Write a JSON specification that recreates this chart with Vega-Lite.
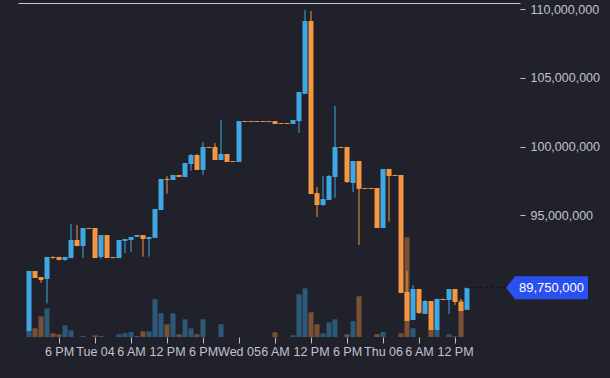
{
  "$schema": "https://vega.github.io/schema/vega-lite/v6.json",
  "width": 502,
  "height": 334,
  "autosize": {"type": "none"},
  "padding": {"left": 18, "top": 3, "right": 90, "bottom": 41},
  "background": "#21212c",
  "config": {
    "view": {"stroke": null},
    "axis": {"grid": false, "labelFont": "Liberation Sans", "labelFontSize": 12.5, "labelColor": "#c2c2ce", "tickColor": "#c2c2ce", "domain": false, "labelOverlap": false, "labelFlush": false}
  },
  "datasets": {
    "candles": [
      {"t": "2019-06-03T13:00:00Z", "open": 86610000, "high": 90970000, "low": 86610000, "close": 90970000, "volume": 6},
      {"t": "2019-06-03T14:00:00Z", "open": 90970000, "high": 90970000, "low": 90460000, "close": 90460000, "volume": 8.7},
      {"t": "2019-06-03T15:00:00Z", "open": 90530000, "high": 90530000, "low": 90120000, "close": 90320000, "volume": 20.7},
      {"t": "2019-06-03T16:00:00Z", "open": 90390000, "high": 91990000, "low": 88620000, "close": 91990000, "volume": 28.7},
      {"t": "2019-06-03T17:00:00Z", "open": 91990000, "high": 92030000, "low": 91850000, "close": 91920000, "volume": 3.7},
      {"t": "2019-06-03T18:00:00Z", "open": 91990000, "high": 91990000, "low": 91740000, "close": 91770000, "volume": 2.7},
      {"t": "2019-06-03T19:00:00Z", "open": 91770000, "high": 91990000, "low": 91700000, "close": 91990000, "volume": 11.7},
      {"t": "2019-06-03T20:00:00Z", "open": 91910000, "high": 94380000, "low": 91910000, "close": 93220000, "volume": 6.7},
      {"t": "2019-06-03T21:00:00Z", "open": 93220000, "high": 94310000, "low": 92780000, "close": 92780000, "volume": 0},
      {"t": "2019-06-03T22:00:00Z", "open": 92780000, "high": 94090000, "low": 91910000, "close": 94090000, "volume": 1},
      {"t": "2019-06-03T23:00:00Z", "open": 94090000, "high": 94090000, "low": 94020000, "close": 94020000, "volume": 0},
      {"t": "2019-06-04T00:00:00Z", "open": 94090000, "high": 94090000, "low": 91910000, "close": 91910000, "volume": 1.7},
      {"t": "2019-06-04T01:00:00Z", "open": 91990000, "high": 93580000, "low": 91850000, "close": 93580000, "volume": 1},
      {"t": "2019-06-04T02:00:00Z", "open": 93580000, "high": 93580000, "low": 91910000, "close": 91910000, "volume": 0},
      {"t": "2019-06-04T03:00:00Z", "open": 91980000, "high": 91980000, "low": 91910000, "close": 91910000, "volume": 0},
      {"t": "2019-06-04T04:00:00Z", "open": 91910000, "high": 93220000, "low": 91910000, "close": 93220000, "volume": 2.7},
      {"t": "2019-06-04T05:00:00Z", "open": 93150000, "high": 93290000, "low": 92280000, "close": 93290000, "volume": 3.7},
      {"t": "2019-06-04T06:00:00Z", "open": 93220000, "high": 93440000, "low": 92350000, "close": 93440000, "volume": 5},
      {"t": "2019-06-04T07:00:00Z", "open": 93440000, "high": 93580000, "low": 93440000, "close": 93580000, "volume": 1},
      {"t": "2019-06-04T08:00:00Z", "open": 93580000, "high": 93580000, "low": 92010000, "close": 93290000, "volume": 5.7},
      {"t": "2019-06-04T09:00:00Z", "open": 93290000, "high": 93440000, "low": 92010000, "close": 93440000, "volume": 5.7},
      {"t": "2019-06-04T10:00:00Z", "open": 93370000, "high": 95470000, "low": 93370000, "close": 95470000, "volume": 37.7},
      {"t": "2019-06-04T11:00:00Z", "open": 95400000, "high": 97650000, "low": 95400000, "close": 97650000, "volume": 23.7},
      {"t": "2019-06-04T12:00:00Z", "open": 97650000, "high": 97850000, "low": 96580000, "close": 97580000, "volume": 12.7},
      {"t": "2019-06-04T13:00:00Z", "open": 97580000, "high": 97940000, "low": 97580000, "close": 97940000, "volume": 23.7},
      {"t": "2019-06-04T14:00:00Z", "open": 97940000, "high": 97940000, "low": 97800000, "close": 97800000, "volume": 2.7},
      {"t": "2019-06-04T15:00:00Z", "open": 97800000, "high": 98810000, "low": 97800000, "close": 98810000, "volume": 17.7},
      {"t": "2019-06-04T16:00:00Z", "open": 98740000, "high": 99470000, "low": 98250000, "close": 99390000, "volume": 8.7},
      {"t": "2019-06-04T17:00:00Z", "open": 99390000, "high": 99470000, "low": 98310000, "close": 98310000, "volume": 2.7},
      {"t": "2019-06-04T18:00:00Z", "open": 98310000, "high": 100340000, "low": 97940000, "close": 99980000, "volume": 17.7},
      {"t": "2019-06-04T19:00:00Z", "open": 99980000, "high": 99980000, "low": 99910000, "close": 99910000, "volume": 0},
      {"t": "2019-06-04T20:00:00Z", "open": 99980000, "high": 100270000, "low": 99030000, "close": 99030000, "volume": 0},
      {"t": "2019-06-04T21:00:00Z", "open": 99030000, "high": 101940000, "low": 99030000, "close": 99470000, "volume": 12.7},
      {"t": "2019-06-04T22:00:00Z", "open": 99470000, "high": 99470000, "low": 98890000, "close": 98890000, "volume": 0},
      {"t": "2019-06-04T23:00:00Z", "open": 98960000, "high": 98960000, "low": 98890000, "close": 98890000, "volume": 0},
      {"t": "2019-06-05T00:00:00Z", "open": 98890000, "high": 101860000, "low": 98890000, "close": 101860000, "volume": 0},
      {"t": "2019-06-05T01:00:00Z", "open": 101860000, "high": 101860000, "low": 101790000, "close": 101790000, "volume": 0},
      {"t": "2019-06-05T02:00:00Z", "open": 101860000, "high": 101860000, "low": 101790000, "close": 101790000, "volume": 0},
      {"t": "2019-06-05T03:00:00Z", "open": 101860000, "high": 101860000, "low": 101790000, "close": 101790000, "volume": 0},
      {"t": "2019-06-05T04:00:00Z", "open": 101860000, "high": 101860000, "low": 101790000, "close": 101790000, "volume": 0},
      {"t": "2019-06-05T05:00:00Z", "open": 101860000, "high": 101860000, "low": 101790000, "close": 101790000, "volume": 0},
      {"t": "2019-06-05T06:00:00Z", "open": 101860000, "high": 101860000, "low": 101650000, "close": 101650000, "volume": 4.7},
      {"t": "2019-06-05T07:00:00Z", "open": 101720000, "high": 101720000, "low": 101650000, "close": 101650000, "volume": 0},
      {"t": "2019-06-05T08:00:00Z", "open": 101720000, "high": 101720000, "low": 101650000, "close": 101650000, "volume": 0},
      {"t": "2019-06-05T09:00:00Z", "open": 101650000, "high": 101940000, "low": 101650000, "close": 101940000, "volume": 1.7},
      {"t": "2019-06-05T10:00:00Z", "open": 101860000, "high": 103970000, "low": 101010000, "close": 103970000, "volume": 42.7},
      {"t": "2019-06-05T11:00:00Z", "open": 103830000, "high": 109930000, "low": 103830000, "close": 109130000, "volume": 48.7},
      {"t": "2019-06-05T12:00:00Z", "open": 109130000, "high": 109850000, "low": 96560000, "close": 96560000, "volume": 24.7},
      {"t": "2019-06-05T13:00:00Z", "open": 96630000, "high": 97070000, "low": 94890000, "close": 95760000, "volume": 12.7},
      {"t": "2019-06-05T14:00:00Z", "open": 95760000, "high": 97870000, "low": 95710000, "close": 96200000, "volume": 3.7},
      {"t": "2019-06-05T15:00:00Z", "open": 96130000, "high": 97940000, "low": 96130000, "close": 97870000, "volume": 14.7},
      {"t": "2019-06-05T16:00:00Z", "open": 97800000, "high": 102950000, "low": 96290000, "close": 99980000, "volume": 17.7},
      {"t": "2019-06-05T17:00:00Z", "open": 99980000, "high": 99980000, "low": 99910000, "close": 99910000, "volume": 0},
      {"t": "2019-06-05T18:00:00Z", "open": 99980000, "high": 99980000, "low": 97360000, "close": 97430000, "volume": 2.7},
      {"t": "2019-06-05T19:00:00Z", "open": 97360000, "high": 98960000, "low": 96710000, "close": 98960000, "volume": 15.7},
      {"t": "2019-06-05T20:00:00Z", "open": 98960000, "high": 98960000, "low": 92860000, "close": 96930000, "volume": 40.7},
      {"t": "2019-06-05T21:00:00Z", "open": 97000000, "high": 97000000, "low": 96930000, "close": 96930000, "volume": 0},
      {"t": "2019-06-05T22:00:00Z", "open": 97000000, "high": 97000000, "low": 96930000, "close": 96930000, "volume": 0},
      {"t": "2019-06-05T23:00:00Z", "open": 97000000, "high": 97000000, "low": 94090000, "close": 94090000, "volume": 2.7},
      {"t": "2019-06-06T00:00:00Z", "open": 94090000, "high": 98380000, "low": 94090000, "close": 98380000, "volume": 5},
      {"t": "2019-06-06T01:00:00Z", "open": 98380000, "high": 98380000, "low": 94550000, "close": 97870000, "volume": 0},
      {"t": "2019-06-06T02:00:00Z", "open": 97940000, "high": 97940000, "low": 97870000, "close": 97870000, "volume": 0},
      {"t": "2019-06-06T03:00:00Z", "open": 97940000, "high": 97940000, "low": 89370000, "close": 89370000, "volume": 3.7},
      {"t": "2019-06-06T04:00:00Z", "open": 89440000, "high": 90970000, "low": 87340000, "close": 87340000, "volume": 99.7},
      {"t": "2019-06-06T05:00:00Z", "open": 87410000, "high": 89950000, "low": 87410000, "close": 89660000, "volume": 8.7},
      {"t": "2019-06-06T06:00:00Z", "open": 89660000, "high": 89660000, "low": 87850000, "close": 87920000, "volume": 0},
      {"t": "2019-06-06T07:00:00Z", "open": 87850000, "high": 88860000, "low": 87850000, "close": 88790000, "volume": 0},
      {"t": "2019-06-06T08:00:00Z", "open": 88790000, "high": 88790000, "low": 86680000, "close": 86680000, "volume": 7.7},
      {"t": "2019-06-06T09:00:00Z", "open": 86680000, "high": 88940000, "low": 86680000, "close": 88940000, "volume": 7.7},
      {"t": "2019-06-06T10:00:00Z", "open": 88940000, "high": 88940000, "low": 88860000, "close": 88860000, "volume": 0},
      {"t": "2019-06-06T11:00:00Z", "open": 88860000, "high": 89660000, "low": 87850000, "close": 89660000, "volume": 2.7},
      {"t": "2019-06-06T12:00:00Z", "open": 89660000, "high": 89660000, "low": 88500000, "close": 88720000, "volume": 0.7},
      {"t": "2019-06-06T13:00:00Z", "open": 88720000, "high": 88940000, "low": 88060000, "close": 88060000, "volume": 36.7},
      {"t": "2019-06-06T14:00:00Z", "open": 88140000, "high": 89750000, "low": 88140000, "close": 89750000, "volume": 0}
    ],
    "last": [
      {"t": "2019-06-06T14:00:00Z", "t2": "2019-06-06T22:00:00Z", "price": 89750000}
    ]
  },
  "resolve": {"scale": {"y": "independent"}, "axis": {"x": "independent", "y": "independent"}},
  "layer": [
    {
      "data": {"name": "candles"},
      "mark": {"type": "bar", "size": 5, "opacity": 0.42},
      "encoding": {
        "x": {"field": "t", "type": "temporal",
              "scale": {"type": "utc", "domain": [{"year": 2019, "month": 6, "date": 3, "hours": 12, "utc": true}, {"year": 2019, "month": 6, "date": 6, "hours": 22, "utc": true}]},
              "axis": {"orient": "top", "labels": false, "ticks": false, "domain": true, "domainColor": "#c8c8d2", "domainWidth": 1, "title": null}},
        "y": {"field": "volume", "type": "quantitative", "scale": {"domain": [0, 334], "nice": false}, "axis": null},
        "color": {"condition": {"test": "datum.close > datum.open", "value": "#3fa8e3"}, "value": "#f4973e"}
      }
    },
    {
      "encoding": {
        "x": {"field": "t", "type": "temporal",
              "scale": {"type": "utc", "domain": [{"year": 2019, "month": 6, "date": 3, "hours": 12, "utc": true}, {"year": 2019, "month": 6, "date": 6, "hours": 22, "utc": true}]},
              "axis": {"orient": "bottom", "title": null, "tickSize": 6, "labelPadding": 2, "labelFont": "Liberation Sans", "labelFontSize": 12.5, "labelColor": "#c2c2ce", "tickColor": "#c2c2ce",
                       "values": [
                         {"year": 2019, "month": 6, "date": 3, "hours": 18, "utc": true},
                         {"year": 2019, "month": 6, "date": 4, "hours": 0, "utc": true},
                         {"year": 2019, "month": 6, "date": 4, "hours": 6, "utc": true},
                         {"year": 2019, "month": 6, "date": 4, "hours": 12, "utc": true},
                         {"year": 2019, "month": 6, "date": 4, "hours": 18, "utc": true},
                         {"year": 2019, "month": 6, "date": 5, "hours": 0, "utc": true},
                         {"year": 2019, "month": 6, "date": 5, "hours": 6, "utc": true},
                         {"year": 2019, "month": 6, "date": 5, "hours": 12, "utc": true},
                         {"year": 2019, "month": 6, "date": 5, "hours": 18, "utc": true},
                         {"year": 2019, "month": 6, "date": 6, "hours": 0, "utc": true},
                         {"year": 2019, "month": 6, "date": 6, "hours": 6, "utc": true},
                         {"year": 2019, "month": 6, "date": 6, "hours": 12, "utc": true}
                       ],
                       "labelExpr": "utchours(datum.value) == 0 ? utcFormat(datum.value, '%a %d') : utcFormat(datum.value, '%-I %p')"}}
      },
      "layer": [
        {
          "data": {"name": "candles"},
          "mark": {"type": "rule", "strokeWidth": 1},
          "encoding": {
            "y": {"field": "low", "type": "quantitative",
                  "scale": {"domain": [86174000, 110436000], "nice": false, "zero": false},
                  "axis": {"orient": "right", "title": null, "tickSize": 5, "labelPadding": 5, "format": ",d", "labelFont": "Liberation Sans", "labelFontSize": 12.5, "labelColor": "#c2c2ce", "tickColor": "#c2c2ce", "values": [95000000, 100000000, 105000000, 110000000]}},
            "y2": {"field": "high"},
            "color": {"condition": {"test": "datum.close > datum.open", "value": "#3fa8e3"}, "value": "#f4973e"}
          }
        },
        {
          "data": {"name": "candles"},
          "mark": {"type": "bar", "size": 5},
          "encoding": {
            "y": {"field": "open", "type": "quantitative",
                  "scale": {"domain": [86174000, 110436000], "nice": false, "zero": false},
                  "axis": {"orient": "right", "title": null, "tickSize": 5, "labelPadding": 5, "format": ",d", "labelFont": "Liberation Sans", "labelFontSize": 12.5, "labelColor": "#c2c2ce", "tickColor": "#c2c2ce", "values": [95000000, 100000000, 105000000, 110000000]}},
            "y2": {"field": "close"},
            "color": {"condition": {"test": "datum.close > datum.open", "value": "#3fa8e3"}, "value": "#f4973e"}
          }
        },
        {
          "data": {"name": "last"},
          "mark": {"type": "rule", "strokeWidth": 1, "strokeDash": [3, 3], "color": "#0e0e14"},
          "encoding": {
            "y": {"field": "price", "type": "quantitative",
                  "scale": {"domain": [86174000, 110436000], "nice": false, "zero": false},
                  "axis": {"orient": "right", "title": null, "tickSize": 5, "labelPadding": 5, "format": ",d", "labelFont": "Liberation Sans", "labelFontSize": 12.5, "labelColor": "#c2c2ce", "tickColor": "#c2c2ce", "values": [95000000, 100000000, 105000000, 110000000]}},
            "x2": {"field": "t2"}
          }
        },
        {
          "data": {"name": "last"},
          "mark": {"type": "point", "shape": "M -9 0 L 0 -11.5 L 73 -11.5 L 73 11.5 L 0 11.5 Z", "size": 4, "filled": true, "opacity": 1, "color": "#2b50f0", "strokeWidth": 0},
          "encoding": {
            "x": {"field": "t2", "type": "temporal",
                  "scale": {"type": "utc", "domain": [{"year": 2019, "month": 6, "date": 3, "hours": 12, "utc": true}, {"year": 2019, "month": 6, "date": 6, "hours": 22, "utc": true}]}},
            "y": {"field": "price", "type": "quantitative",
                  "scale": {"domain": [86174000, 110436000], "nice": false, "zero": false},
                  "axis": {"orient": "right", "title": null, "tickSize": 5, "labelPadding": 5, "format": ",d", "labelFont": "Liberation Sans", "labelFontSize": 12.5, "labelColor": "#c2c2ce", "tickColor": "#c2c2ce", "values": [95000000, 100000000, 105000000, 110000000]}}
          }
        },
        {
          "data": {"name": "last"},
          "mark": {"type": "text", "dx": 36.5, "align": "center", "baseline": "middle", "font": "Liberation Sans", "fontSize": 13, "color": "#ffffff"},
          "encoding": {
            "x": {"field": "t2", "type": "temporal",
                  "scale": {"type": "utc", "domain": [{"year": 2019, "month": 6, "date": 3, "hours": 12, "utc": true}, {"year": 2019, "month": 6, "date": 6, "hours": 22, "utc": true}]}},
            "y": {"field": "price", "type": "quantitative",
                  "scale": {"domain": [86174000, 110436000], "nice": false, "zero": false},
                  "axis": {"orient": "right", "title": null, "tickSize": 5, "labelPadding": 5, "format": ",d", "labelFont": "Liberation Sans", "labelFontSize": 12.5, "labelColor": "#c2c2ce", "tickColor": "#c2c2ce", "values": [95000000, 100000000, 105000000, 110000000]}},
            "text": {"field": "price", "type": "quantitative", "format": ",d"}
          }
        }
      ]
    }
  ]
}
